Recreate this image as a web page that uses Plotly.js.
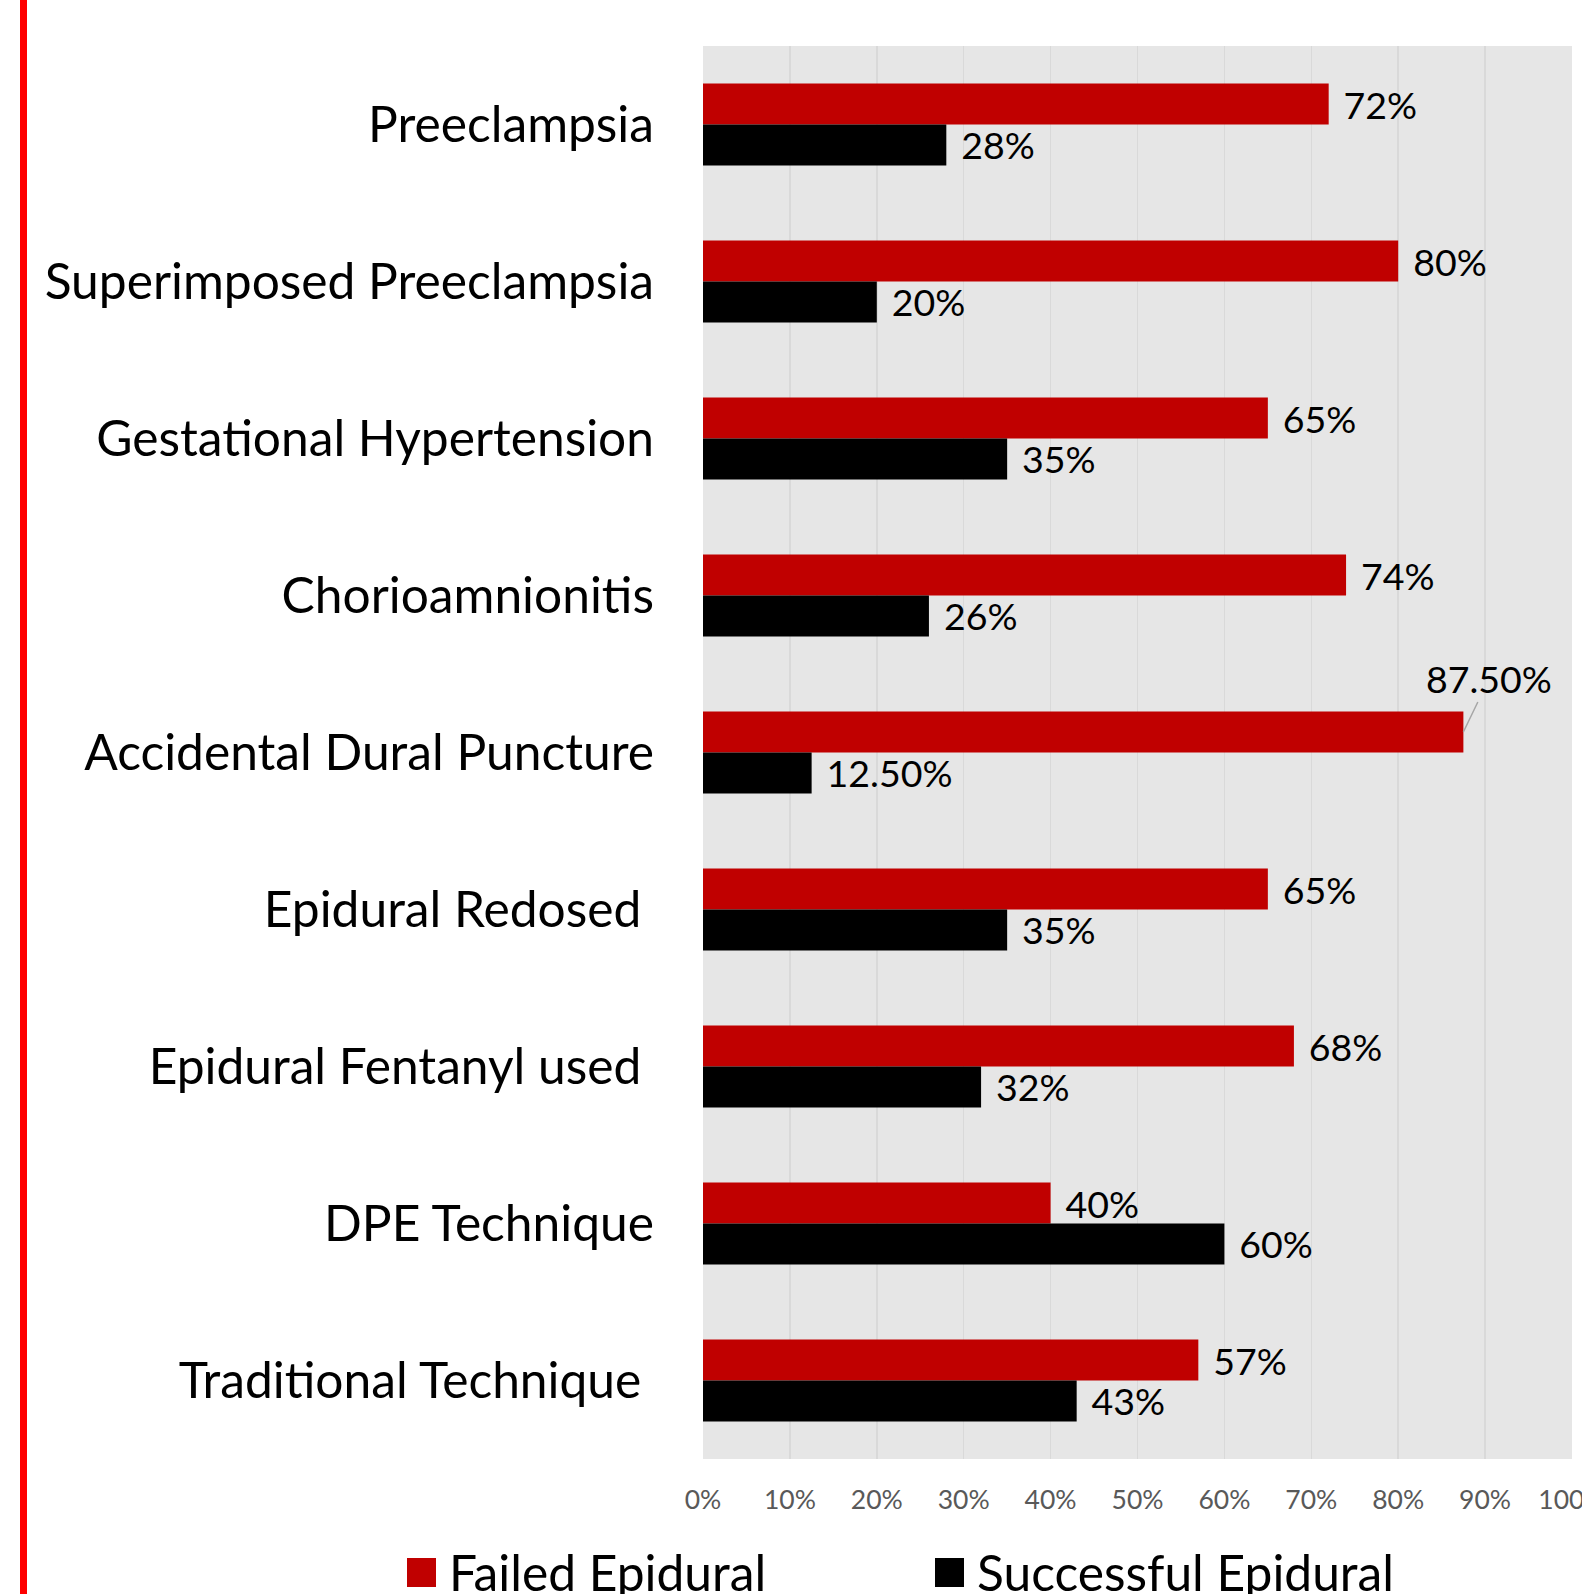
<!DOCTYPE html>
<html>
<head>
<meta charset="utf-8">
<script src="https://cdn.plot.ly/plotly-3.0.1.min.js"></script>
<style>
  html, body { margin: 0; padding: 0; background: #ffffff; }
  #chart { width: 1582px; height: 1594px; }
</style>
</head>
<body>
<div id="chart"></div>
<script>
// ---- data ----
const categories = ['Preeclampsia', 'Superimposed Preeclampsia', 'Gestational Hypertension', 'Chorioamnionitis',
  'Accidental Dural Puncture', 'Epidural Redosed', 'Epidural Fentanyl used', 'DPE Technique', 'Traditional Technique'];
const categoryLabels = ['Preeclampsia', 'Superimposed Preeclampsia', 'Gestational Hypertension', 'Chorioamnionitis',
  'Accidental Dural Puncture', 'Epidural Redosed\u00a0', 'Epidural Fentanyl used\u00a0', 'DPE Technique', 'Traditional Technique\u00a0'];
const failed = [72, 80, 65, 74, 87.5, 65, 68, 40, 57];
const successful = [28, 20, 35, 26, 12.5, 35, 32, 60, 43];
const failedLabels = ['72%', '80%', '65%', '74%', '87.50%', '65%', '68%', '40%', '57%'];
const successfulLabels = ['28%', '20%', '35%', '26%', '12.50%', '35%', '32%', '60%', '43%'];
const seriesNames = ['Failed Epidural', 'Successful Epidural'];
const seriesColors = ['#C00000', '#000000'];
const xTickVals = [0, 10, 20, 30, 40, 50, 60, 70, 80, 90, 100];
const xTickText = ['0%', '10%', '20%', '30%', '40%', '50%', '60%', '70%', '80%', '90%', '100%'];

// ---- font fitting (match reference text widths) ----
const FONT = 'Lato, "Open Sans", sans-serif';
function fit(text, target) {
  const c = document.createElement('canvas').getContext('2d');
  c.font = '100px Lato';
  const w = c.measureText(text).width;
  return Math.round(100 * target / w * 10) / 10;
}
const catSize = fit('Superimposed Preeclampsia', 610);
const valSize = fit('87.50%', 126);
const tickSize = fit('10%', 52);
const legSize = fit('Failed Epidural', 317);

const PAD = '\u00a0\u200a';
// callout label for the longest bar
const calloutIdx = failed.indexOf(Math.max(...failed));
const failedText = failedLabels.map((t, i) => i === calloutIdx ? '' : PAD + t);
const successText = successfulLabels.map(t => PAD + t);

const W = 1582, H = 1594;
const margin = { l: 703, r: 10, t: 46, b: 135 };
const plotW = W - margin.l - margin.r;
const plotH = H - margin.t - margin.b;
const px2x = px => (px - margin.l) / plotW;
const py2y = py => (H - margin.b - py) / plotH;

const traces = [
  {
    type: 'bar', orientation: 'h', name: seriesNames[0],
    y: categories, x: failed,
    marker: { color: seriesColors[0], line: { width: 0 } },
    text: failedText, textposition: 'outside', constraintext: 'none', cliponaxis: false,
    textfont: { family: FONT, size: valSize, color: '#000000' },
    hoverinfo: 'x+y'
  },
  {
    type: 'bar', orientation: 'h', name: seriesNames[1],
    y: categories, x: successful,
    marker: { color: seriesColors[1], line: { width: 0 } },
    text: successText, textposition: 'outside', constraintext: 'none', cliponaxis: false,
    textfont: { family: FONT, size: valSize, color: '#000000' },
    hoverinfo: 'x+y'
  }
];

// legend drawn manually (large square swatches as in the reference)
const legendSwatchX = [407, 935];
const shapes = [
  { type: 'line', xref: 'paper', yref: 'paper', x0: px2x(23.5), x1: px2x(23.5), y0: py2y(H + 10), y1: py2y(-10),
    line: { color: '#FF0000', width: 7 } }
];
const annotations = [
  {
    x: failed[calloutIdx], y: categories[calloutIdx], xref: 'x', yref: 'y',
    text: failedLabels[calloutIdx], showarrow: true, arrowhead: 0, arrowwidth: 1.5, arrowcolor: '#A6A6A6',
    ax: 26, ay: -54, yshift: 20.5, standoff: 0,
    font: { family: FONT, size: valSize, color: '#000000' }
  }
];
seriesNames.forEach((name, i) => {
  const x0 = legendSwatchX[i];
  shapes.push({ type: 'rect', xref: 'paper', yref: 'paper', x0: px2x(x0), x1: px2x(x0 + 29),
    y0: py2y(1587), y1: py2y(1558), fillcolor: seriesColors[i], line: { width: 0 } });
  annotations.push({ xref: 'paper', yref: 'paper', x: px2x(x0 + 40), y: py2y(1572), xanchor: 'left', yanchor: 'middle',
    text: name, showarrow: false, font: { family: FONT, size: legSize, color: '#000000' } });
});

const layout = {
  width: W, height: H, margin: margin,
  paper_bgcolor: '#ffffff', plot_bgcolor: '#E6E6E6',
  barmode: 'group', bargap: 0.478, bargroupgap: 0,
  showlegend: false,
  font: { family: FONT, color: '#000000' },
  xaxis: {
    range: [0, 100], tickvals: xTickVals, ticktext: xTickText, fixedrange: true,
    showgrid: true, gridcolor: '#D9D9D9', gridwidth: 1.5, zeroline: false,
    showline: false, ticks: '', ticklabelstandoff: 22, ticklabeloverflow: 'allow',
    tickfont: { family: FONT, size: tickSize, color: '#595959' }
  },
  yaxis: {
    type: 'category', categoryorder: 'array', categoryarray: categories,
    tickvals: categories, ticktext: categoryLabels,
    autorange: 'reversed', fixedrange: true,
    showgrid: false, zeroline: false, showline: false, ticks: '', ticklabelstandoff: 48,
    tickfont: { family: FONT, size: catSize, color: '#000000' }
  },
  shapes: shapes,
  annotations: annotations
};

Plotly.newPlot('chart', traces, layout, { displayModeBar: false, staticPlot: true });
</script>
</body>
</html>
